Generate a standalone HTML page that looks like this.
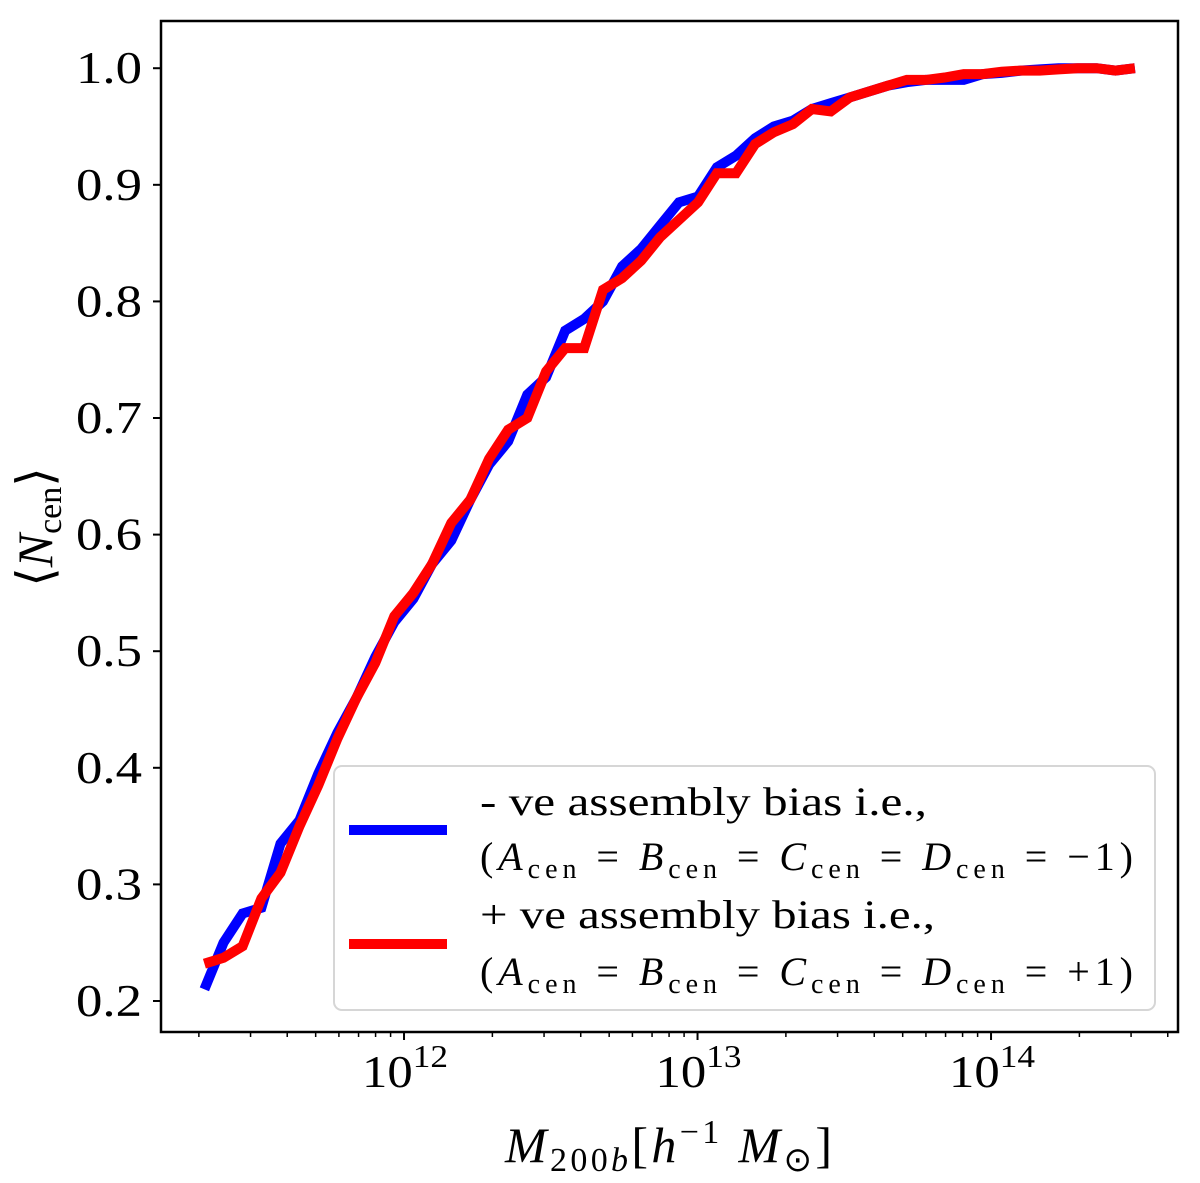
<!DOCTYPE html>
<html><head><meta charset="utf-8"><style>
html,body{margin:0;padding:0;background:#fff;}
svg{display:block;font-family:"Liberation Serif",serif;}
</style></head><body>
<svg id="chart" width="1200" height="1183" viewBox="0 0 1200 1183" xmlns="http://www.w3.org/2000/svg">
<g id="axes"></g>
<g id="series"></g>
<g id="legend">
<rect x="334" y="766" width="821" height="244" rx="8" fill="#fff" fill-opacity="0.8" stroke="#d6d6d6" stroke-width="2"/>
<line x1="349" y1="830" x2="447" y2="830" stroke="#0000ff" stroke-width="10"/>
<text x="480" y="815" font-size="40" textLength="447" lengthAdjust="spacingAndGlyphs">- ve assembly bias i.e.,</text>
<text x="480" y="870" font-size="40" textLength="653" lengthAdjust="spacing">(<tspan font-style="italic">A</tspan><tspan font-size="28" dy="8">cen</tspan><tspan dy="-8"> = </tspan><tspan font-style="italic">B</tspan><tspan font-size="28" dy="8">cen</tspan><tspan dy="-8"> = </tspan><tspan font-style="italic">C</tspan><tspan font-size="28" dy="8">cen</tspan><tspan dy="-8"> = </tspan><tspan font-style="italic">D</tspan><tspan font-size="28" dy="8">cen</tspan><tspan dy="-8"> = −1)</tspan></text>
<line x1="349" y1="944" x2="447" y2="944" stroke="#ff0000" stroke-width="10"/>
<text x="480" y="928" font-size="40" textLength="455" lengthAdjust="spacingAndGlyphs">+ ve assembly bias i.e.,</text>
<text x="480" y="985" font-size="40" textLength="653" lengthAdjust="spacing">(<tspan font-style="italic">A</tspan><tspan font-size="28" dy="8">cen</tspan><tspan dy="-8"> = </tspan><tspan font-style="italic">B</tspan><tspan font-size="28" dy="8">cen</tspan><tspan dy="-8"> = </tspan><tspan font-style="italic">C</tspan><tspan font-size="28" dy="8">cen</tspan><tspan dy="-8"> = </tspan><tspan font-style="italic">D</tspan><tspan font-size="28" dy="8">cen</tspan><tspan dy="-8"> = +1)</tspan></text>
</g>
<text x="505" y="1162" font-size="50" textLength="327" lengthAdjust="spacing"><tspan font-style="italic">M</tspan><tspan font-size="34" dy="9">200<tspan font-style="italic">b</tspan></tspan><tspan dy="-9">[</tspan><tspan font-style="italic">h</tspan><tspan font-size="34" dy="-19">−1</tspan><tspan dy="19"> </tspan><tspan font-style="italic">M</tspan><tspan font-size="34" dy="9">⊙</tspan><tspan dy="-9">]</tspan></text>
<text transform="translate(52,527) rotate(-90)" font-size="50" text-anchor="middle">⟨<tspan font-style="italic">N</tspan><tspan font-size="34" dy="9">cen</tspan><tspan dy="-9">⟩</tspan></text>
</svg>
<script>
const logMass = [11.32,11.385,11.45,11.514,11.579,11.644,11.708,11.773,11.838,11.902,11.967,12.032,12.096,12.161,12.226,12.29,12.355,12.42,12.484,12.549,12.614,12.678,12.743,12.808,12.872,12.937,13.002,13.066,13.131,13.196,13.26,13.325,13.39,13.454,13.519,13.584,13.648,13.713,13.778,13.842,13.907,13.972,14.036,14.101,14.166,14.23,14.295,14.36,14.424,14.49];
const ncenNegative = [0.21,0.25,0.275,0.28,0.335,0.355,0.395,0.43,0.46,0.495,0.525,0.545,0.575,0.595,0.63,0.66,0.68,0.72,0.735,0.775,0.785,0.8,0.83,0.845,0.865,0.885,0.89,0.915,0.925,0.94,0.95,0.955,0.965,0.97,0.975,0.98,0.985,0.988,0.99,0.99,0.99,0.995,0.996,0.998,0.999,1.0,1.0,1.0,0.998,1.0];
const ncenPositive = [0.232,0.237,0.247,0.288,0.31,0.35,0.385,0.425,0.46,0.49,0.53,0.55,0.575,0.61,0.63,0.665,0.69,0.7,0.74,0.76,0.76,0.81,0.82,0.835,0.855,0.87,0.885,0.91,0.91,0.935,0.945,0.952,0.965,0.963,0.975,0.98,0.985,0.99,0.99,0.992,0.995,0.995,0.997,0.998,0.998,0.999,1.0,1.0,0.998,1.0];
const yTicks = [0.2,0.3,0.4,0.5,0.6,0.7,0.8,0.9,1.0];
const yTickLabels = ["0.2","0.3","0.4","0.5","0.6","0.7","0.8","0.9","1.0"];
const xMajorExp = [12,13,14];

const NS="http://www.w3.org/2000/svg";
const L=161,R=1178,T=21,B=1032;
const xMin=11.172,xMax=14.637,yMin=0.1734,yMax=1.0405;
const xs=v=>L+(v-xMin)/(xMax-xMin)*(R-L);
const ys=v=>B-(v-yMin)/(yMax-yMin)*(B-T);
function mk(tag,attrs,parent){const e=document.createElementNS(NS,tag);for(const k in attrs)e.setAttribute(k,attrs[k]);parent.appendChild(e);return e;}
const axes=document.getElementById('axes');
const frame=mk('rect',{x:L,y:T,width:R-L,height:B-T,fill:'none',stroke:'#000','stroke-width':2.5},axes);


yTicks.forEach((v,i)=>{
  const y=ys(v);
  const t=mk('line',{x1:L-8,x2:L,y1:y,y2:y,stroke:'#000','stroke-width':2},axes);
  
  
  const tx=mk('text',{x:76,y:y+15,'font-size':45,textLength:66,lengthAdjust:'spacingAndGlyphs'},axes);
  tx.textContent=yTickLabels[i];
  
  
});
for(let d=11;d<=14;d++){for(let m=1;m<=9;m++){
  const lv=d+Math.log10(m);
  if(lv<xMin||lv>xMax)continue;
  const x=xs(lv);
  const major=m===1;
  const t=mk('line',{x1:x,x2:x,y1:B,y2:B+(major?8:5),stroke:'#000','stroke-width':major?2:1.5},axes);
  
  
}}
xMajorExp.forEach(e=>{
  const x=xs(e);
  const tx=mk('text',{x:x-42,y:1087,'font-size':46,textLength:86,lengthAdjust:'spacingAndGlyphs'},axes);
  
  
  tx.innerHTML='10<tspan font-size="32" dy="-20">'+e+'</tspan>';
});
const series=document.getElementById('series');
function line(vals,color,name){
  const d=vals.map((v,i)=>(i?'L':'M')+xs(logMass[i]).toFixed(1)+','+ys(v).toFixed(1)).join(' ');
  const p=mk('path',{d:d,fill:'none',stroke:color,'stroke-width':10,'stroke-linejoin':'miter','stroke-linecap':'butt'},series);
  
  
}
line(ncenNegative,'#0000ff','negative-bias-line');
line(ncenPositive,'#ff0000','positive-bias-line');
</script>
</body></html>
